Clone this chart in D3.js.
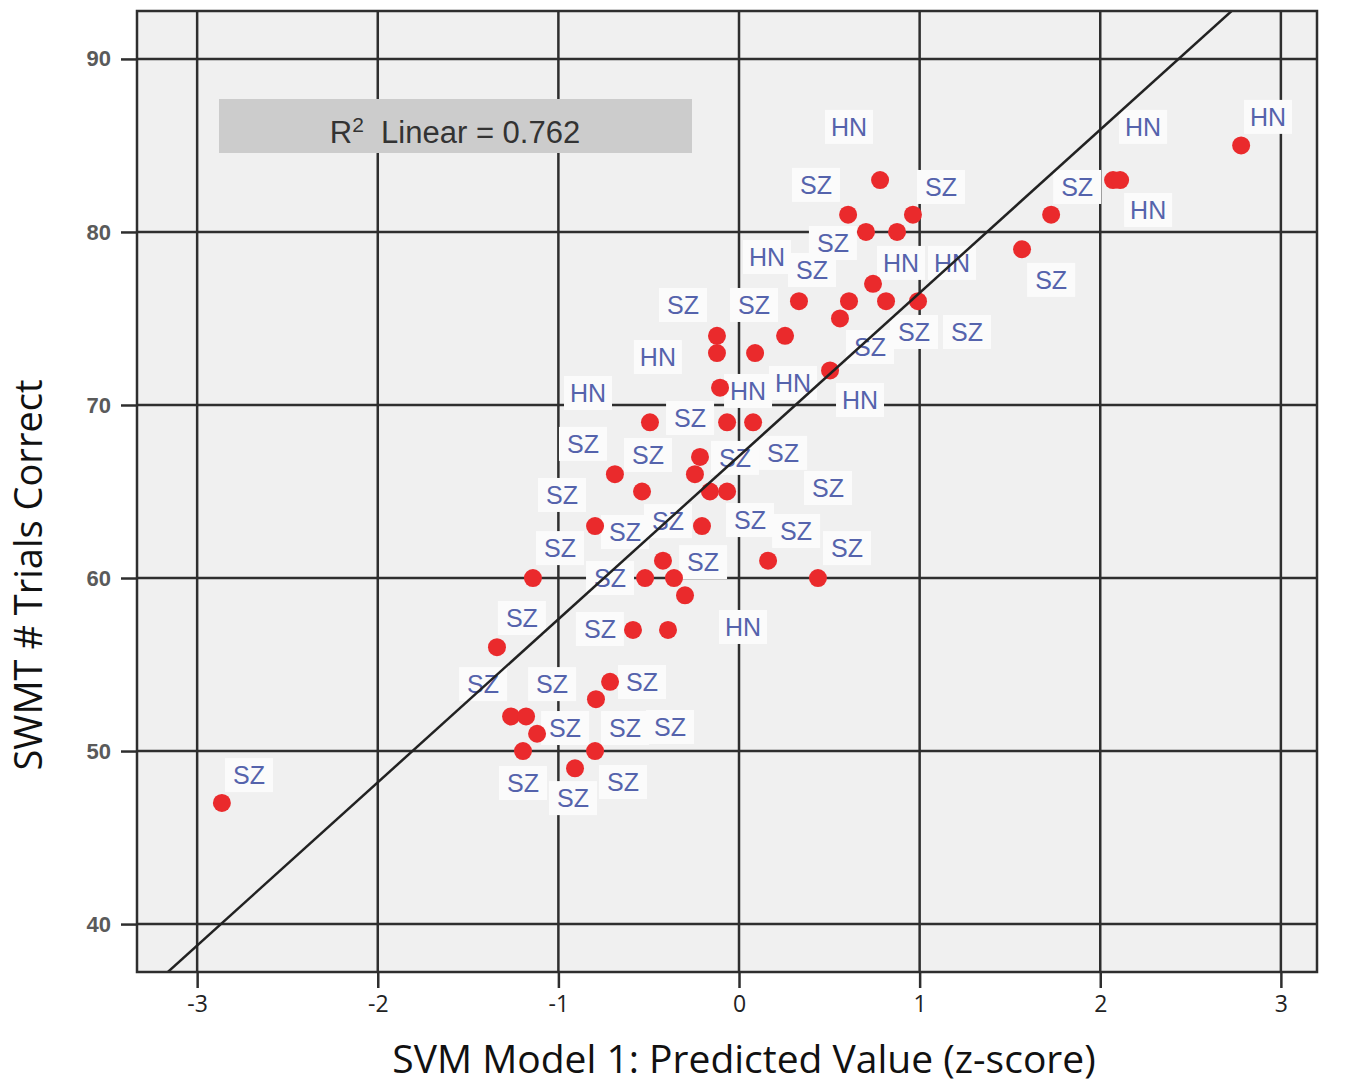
<!DOCTYPE html>
<html>
<head>
<meta charset="utf-8">
<script src="https://cdn.jsdelivr.net/npm/d3@7/dist/d3.min.js"></script>
<style>
  body { margin: 0; background: #fff; }
  svg { display: block; }
</style>
</head>
<body>
<svg width="1350" height="1085"></svg>
<script>
// axis ticks
var xTicks = [-3, -2, -1, 0, 1, 2, 3];
var yTicks = [40, 50, 60, 70, 80, 90];

// predicted value (z-score) vs SWMT trials correct
var pointX = [-2.863, -1.340, -1.141, -1.262, -1.179, -1.118, -1.196, -0.908, -0.797, -0.792,
  -0.714, -0.587, -0.393, -0.520, -0.360, -0.421, -0.299, -0.797, -0.537, -0.687,
  -0.493, -0.244, -0.216, -0.161, -0.066, -0.205, 0.161, 0.437, -0.066, 0.078,
  -0.105, -0.122, -0.122, 0.089, 0.255, 0.332, 0.504, 0.559, 0.609, 0.742,
  0.814, 0.991, 0.604, 0.781, 0.703, 0.875, 0.963, 1.567, 1.728, 2.071,
  2.110, 2.780];
var pointY = [47, 56, 60, 52, 52, 51, 50, 49, 50, 53,
  54, 57, 57, 60, 60, 61, 59, 63, 65, 66,
  69, 66, 67, 65, 65, 63, 61, 60, 69, 69,
  71, 73, 74, 73, 74, 76, 72, 75, 76, 77,
  76, 76, 81, 83, 80, 80, 81, 79, 81, 83,
  83, 85];

// group labels as SPSS placed them (data units)
var labelText = ['HN', 'HN', 'HN', 'SZ', 'SZ', 'SZ', 'HN', 'SZ', 'HN', 'SZ',
  'HN', 'HN', 'SZ', 'SZ', 'SZ', 'SZ', 'SZ', 'SZ', 'HN', 'HN',
  'HN', 'HN', 'HN', 'SZ', 'SZ', 'SZ', 'SZ', 'SZ', 'SZ', 'SZ',
  'SZ', 'SZ', 'SZ', 'SZ', 'SZ', 'SZ', 'SZ', 'SZ', 'SZ', 'SZ',
  'HN', 'SZ', 'SZ', 'SZ', 'SZ', 'SZ', 'SZ', 'SZ', 'SZ', 'SZ',
  'SZ'];
var labelX = [0.609, 2.237, 2.929, 0.426, 1.118, 1.872, 2.265, 0.520, 0.155, 0.404,
  0.897, 1.179, 1.728, -0.310, 0.083, 0.969, 1.262, 0.725, -0.449, -0.836,
  0.050, 0.299, 0.670, -0.271, -0.864, -0.504, -0.022, 0.244, 0.493, -0.980,
  -0.631, -0.393, 0.061, 0.316, -0.991, 0.598, -0.714, -0.199, -1.202, -0.770,
  0.022, -1.417, -1.035, -0.537, -0.963, -0.631, -0.382, -1.196, -0.919, -0.642,
  -2.713];
var labelY = [86.07, 86.07, 86.65, 82.72, 82.60, 82.60, 81.27, 79.36, 78.55, 77.80,
  78.21, 78.21, 77.23, 75.78, 75.78, 74.22, 74.22, 73.35, 72.77, 70.69,
  70.81, 71.27, 70.29, 69.25, 67.75, 67.11, 66.94, 67.23, 65.20, 64.80,
  62.66, 63.29, 63.35, 62.72, 61.73, 61.73, 60.00, 60.92, 57.69, 57.05,
  57.17, 53.87, 53.87, 53.99, 51.33, 51.33, 51.39, 48.15, 47.28, 48.21,
  48.61];

// fit line
var fitIntercept = 67.05;
var fitSlope = 9.43;
var rSquared = '0.762';

var svg = d3.select('svg');
var plotLeft = 137, plotRight = 1317, plotTop = 11, plotBottom = 972;

var x = d3.scaleLinear().domain([-3.333, 3.2]).range([plotLeft, plotRight]);
var y = d3.scaleLinear().domain([37.23, 92.77]).range([plotBottom, plotTop]);

// plot background
svg.append('rect')
  .attr('x', plotLeft).attr('y', plotTop)
  .attr('width', plotRight - plotLeft).attr('height', plotBottom - plotTop)
  .attr('fill', '#f0f0f0');

svg.append('clipPath').attr('id', 'plotclip')
  .append('rect')
  .attr('x', plotLeft).attr('y', plotTop)
  .attr('width', plotRight - plotLeft).attr('height', plotBottom - plotTop);

// grid lines
var grid = svg.append('g').attr('stroke', '#2e2e2e').attr('stroke-width', 2.5);
grid.selectAll('.vx').data(xTicks).enter().append('line')
  .attr('x1', function(d) { return x(d); })
  .attr('x2', function(d) { return x(d); })
  .attr('y1', plotTop).attr('y2', plotBottom);
grid.selectAll('.hy').data(yTicks).enter().append('line')
  .attr('y1', function(d) { return y(d); })
  .attr('y2', function(d) { return y(d); })
  .attr('x1', plotLeft).attr('x2', plotRight);

// axes
var xAxis = svg.append('g')
  .attr('transform', 'translate(0,' + plotBottom + ')')
  .call(d3.axisBottom(x).tickValues(xTicks).tickSize(16).tickPadding(8)
    .tickFormat(function(d) { return d; }));
xAxis.select('.domain').remove();
xAxis.selectAll('line').attr('stroke', '#2e2e2e').attr('stroke-width', 2.5);
xAxis.selectAll('text')
  .attr('font-family', '"Open Sans", sans-serif')
  .attr('font-size', 23).attr('fill', '#222');

var yAxis = svg.append('g')
  .attr('transform', 'translate(' + plotLeft + ',0)')
  .call(d3.axisLeft(y).tickValues(yTicks).tickSize(16).tickPadding(10));
yAxis.select('.domain').remove();
yAxis.selectAll('line').attr('stroke', '#2e2e2e').attr('stroke-width', 2.5);
yAxis.selectAll('text')
  .attr('font-family', '"Liberation Sans", Arial, sans-serif')
  .attr('font-weight', 'bold')
  .attr('font-size', 22).attr('fill', '#5a5a5a');

// point labels
var labels = svg.append('g');
var lab = labels.selectAll('g').data(labelText).enter().append('g')
  .attr('transform', function(d, i) { return 'translate(' + x(labelX[i]) + ',' + y(labelY[i]) + ')'; });
lab.append('rect')
  .attr('x', -24).attr('y', -17).attr('width', 48).attr('height', 34)
  .attr('fill', '#fbfbfb');
lab.append('text')
  .attr('text-anchor', 'middle')
  .attr('dy', '0.36em')
  .attr('font-family', '"Liberation Sans", Arial, sans-serif')
  .attr('font-size', 25)
  .attr('fill', '#5563ac')
  .text(function(d) { return d; });

// points
svg.append('g').selectAll('circle').data(pointX).enter().append('circle')
  .attr('cx', function(d) { return x(d); })
  .attr('cy', function(d, i) { return y(pointY[i]); })
  .attr('r', 9)
  .attr('fill', '#ea2a2c');

// fit line
var lineX = x.domain();
svg.append('line')
  .attr('clip-path', 'url(#plotclip)')
  .attr('x1', x(lineX[0])).attr('y1', y(fitIntercept + fitSlope * lineX[0]))
  .attr('x2', x(lineX[1])).attr('y2', y(fitIntercept + fitSlope * lineX[1]))
  .attr('stroke', '#222').attr('stroke-width', 2.5);

// R2 box
svg.append('rect')
  .attr('x', 219).attr('y', 99).attr('width', 473).attr('height', 54)
  .attr('fill', '#cccccc');
var r2 = svg.append('text')
  .attr('x', 455).attr('y', 143)
  .attr('text-anchor', 'middle')
  .attr('font-family', '"Liberation Sans", Arial, sans-serif')
  .attr('font-size', 31).attr('fill', '#333');
r2.append('tspan').text('R');
r2.append('tspan').attr('font-size', 21).attr('dy', -11).text('2');
r2.append('tspan').attr('dy', 11).text('\u00a0 Linear = ' + rSquared);

// frame
svg.append('rect')
  .attr('x', plotLeft).attr('y', plotTop)
  .attr('width', plotRight - plotLeft).attr('height', plotBottom - plotTop)
  .attr('fill', 'none').attr('stroke', '#2e2e2e').attr('stroke-width', 2.5);

// axis titles
svg.append('text')
  .attr('x', 744).attr('y', 1073)
  .attr('text-anchor', 'middle')
  .attr('font-family', '"Open Sans", sans-serif')
  .attr('font-size', 39).attr('fill', '#111')
  .text('SVM Model 1: Predicted Value (z-score)');

svg.append('text')
  .attr('transform', 'translate(42,575) rotate(-90)')
  .attr('text-anchor', 'middle')
  .attr('font-family', '"Open Sans", sans-serif')
  .attr('font-size', 38).attr('fill', '#111')
  .text('SWMT # Trials Correct');
</script>
</body>
</html>
